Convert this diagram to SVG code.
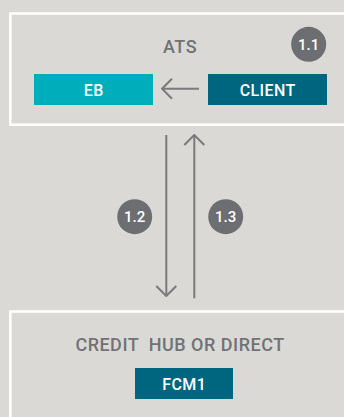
<svg xmlns="http://www.w3.org/2000/svg" width="344" height="417" viewBox="0 0 344 417">
<defs>
<style>
.frame{fill:#dad9d6;stroke:#ffffff;stroke-width:2.5}
.title{font-family:Roboto,"Liberation Sans",sans-serif;font-weight:500;font-size:18px;fill:#717275;text-anchor:middle;letter-spacing:0.5px}
.lbl{font-family:Roboto,"Liberation Sans",sans-serif;font-weight:500;font-size:16px;fill:#ffffff;text-anchor:middle;letter-spacing:0.4px}
.badge circle{fill:#6d6e71}
.badge text{font-family:Roboto,"Liberation Sans",sans-serif;font-weight:500;font-size:15px;fill:#ffffff;text-anchor:middle}
.conn{stroke:#7a7a7b;stroke-width:2;fill:none}
</style>
<marker id="ah" viewBox="0 0 12 22" refX="11" refY="11" markerWidth="12" markerHeight="22" markerUnits="userSpaceOnUse" orient="auto">
<path d="M1,1 L11,11 L1,21" fill="none" stroke="#7a7a7b" stroke-width="2"/>
</marker>
</defs>
<rect width="344" height="417" fill="#dad9d6"/>
<g id="ats">
<rect class="frame" x="10.3" y="13.5" width="345" height="111.2"/>
<text class="title" x="180" y="53">ATS</text>
</g>
<g id="eb">
<rect x="34" y="74" width="119" height="31" fill="#00adba"/>
<text class="lbl" x="93.7" y="95.5">EB</text>
</g>
<g id="client">
<rect x="208" y="74" width="119" height="31" fill="#00667f"/>
<text class="lbl" x="267.7" y="95.5">CLIENT</text>
</g>
<g id="credit-hub">
<rect class="frame" x="10.3" y="311.5" width="345" height="120"/>
<text class="title" x="180" y="351" xml:space="preserve">CREDIT  HUB OR DIRECT</text>
</g>
<g id="fcm1">
<rect x="135" y="368" width="98" height="31" fill="#00667f"/>
<text class="lbl" x="184.2" y="389.5">FCM1</text>
</g>
<g id="connectors">
<line class="conn" x1="199" y1="88.7" x2="162" y2="88.7" marker-end="url(#ah)"/>
<line class="conn" x1="166.3" y1="135" x2="166.3" y2="296" marker-end="url(#ah)"/>
<line class="conn" x1="194.3" y1="298.3" x2="194.3" y2="135" marker-end="url(#ah)"/>
</g>
<g id="badge-1-1" class="badge">
<circle cx="308.7" cy="44.3" r="17.5"/>
<text x="308.7" y="49.5">1.1</text>
</g>
<g id="badge-1-2" class="badge">
<circle cx="134.7" cy="216.7" r="17.5"/>
<text x="134.7" y="222">1.2</text>
</g>
<g id="badge-1-3" class="badge">
<circle cx="225.7" cy="216.7" r="17.5"/>
<text x="225.7" y="222">1.3</text>
</g>
</svg>
